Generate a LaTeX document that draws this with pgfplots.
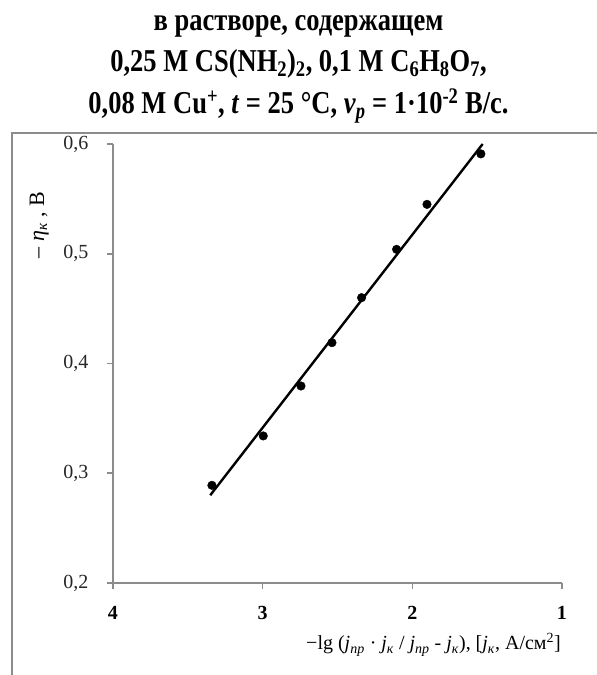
\documentclass[border=0pt]{standalone}
\usepackage{fontspec}
\setmainfont{Liberation Serif}
\usepackage{pgfplots}
\pgfplotsset{compat=1.18}
\definecolor{axgray}{HTML}{8C8C8C}
\begin{document}
\begin{tikzpicture}[x=1pt,y=1pt]
\useasboundingbox (0,0) rectangle (597,675);
% frame
\draw[axgray, line width=1.6pt] (12,-2) -- (12,542) -- (599,542);
% title
\tikzset{ttl/.style={anchor=base, font=\bfseries\fontsize{26.5}{26.5}\selectfont, inner sep=0pt, yscale=1.2}}
\node[ttl] at (298.5,644) {в растворе, содержащем};
\node[ttl] at (298.5,603) {0,25 М CS(NH\textsubscript{2})\textsubscript{2}, 0,1 М C\textsubscript{6}H\textsubscript{8}O\textsubscript{7},};
\node[ttl] at (298.5,561) {0,08 М Cu\textsuperscript{+}, \textit{t} = 25 °C, \textit{v}\textsubscript{\textit{р}} = 1·10\textsuperscript{-2} В/с.};
\begin{axis}[
  at={(113pt,92pt)}, anchor=south west,
  scale only axis, width=449pt, height=439pt,
  xmin=1, xmax=4, ymin=0.2, ymax=0.6,
  x dir=reverse,
  axis x line=bottom, axis y line=left,
  axis line style={axgray, line width=1.6pt, -},
  tick style={axgray, line width=1.6pt},
  tick align=outside, major tick length=6pt,
  xtick={1,2,3,4}, ytick={0.2,0.3,0.4,0.5,0.6},
  /pgf/number format/assume math mode=true,
  /pgf/number format/use comma, /pgf/number format/fixed,
  /pgf/number format/precision=1, /pgf/number format/fixed zerofill,
  xticklabel style={font=\bfseries\fontsize{20}{20}\selectfont, yshift=-14pt, /pgf/number format/precision=0, /pgf/number format/fixed zerofill=false},
  yticklabel style={font=\fontsize{20}{20}\selectfont, xshift=-15pt, text=black!85},
  clip=false,
]
\addplot[black, line width=2.4pt] coordinates {(3.35,0.280) (1.53,0.600)};
\addplot[only marks, mark=*, mark size=4.3pt, black] coordinates {
(3.339,0.289) (2.996,0.334) (2.744,0.3795) (2.537,0.419)
(2.339,0.460) (2.105,0.504) (1.902,0.545) (1.542,0.591)};
\end{axis}
\node[rotate=90, anchor=base, font=\fontsize{22}{22}\selectfont, inner sep=0pt] at (44,450) {– \textit{η}\textsubscript{\textit{к}} , В};
\node[anchor=base east, font=\fontsize{20}{20}\selectfont, inner sep=0pt] at (561,25) {−lg (\textit{j}\textsubscript{\textit{пр}} · \textit{j}\textsubscript{\textit{к}} / \textit{j}\textsubscript{\textit{пр}} - \textit{j}\textsubscript{\textit{к}}), [\textit{j}\textsubscript{\textit{к}}, А/см\textsuperscript{2}]};
\end{tikzpicture}
\end{document}
